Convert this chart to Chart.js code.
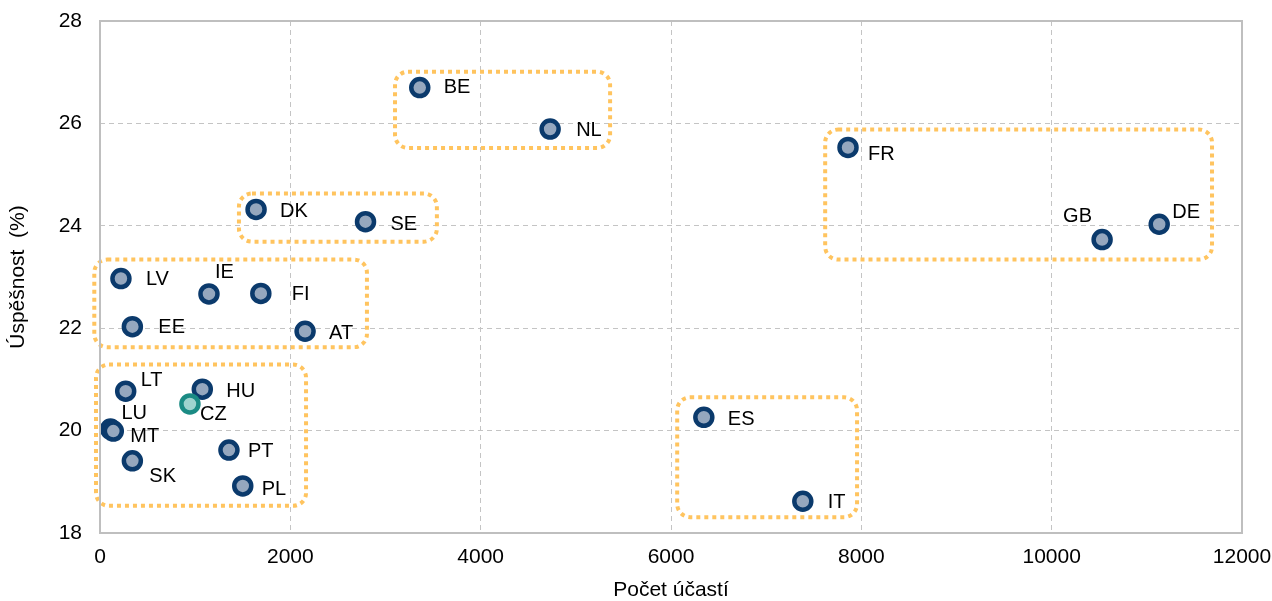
<!DOCTYPE html>
<html>
<head>
<meta charset="utf-8">
<script src="https://cdn.jsdelivr.net/npm/chart.js@4.4.1/dist/chart.umd.min.js"></script>
<style>
  html, body { margin: 0; padding: 0; background: #fff; }
  #wrap { width: 1272px; height: 601px; position: relative; }
</style>
</head>
<body>
<div id="wrap"><canvas id="graf"></canvas></div>
<script>
// zeme, pocet ucasti (x) a uspesnost v % (y)
const zeme = ["BE", "NL", "FR", "DK", "SE", "GB", "DE", "LV", "IE", "FI", "EE", "AT",
              "LT", "HU", "LU", "MT", "PT", "SK", "PL", "ES", "IT", "CZ"];
const ucasti = [3360, 4730, 7860, 1640, 2790, 10530, 11130, 220, 1145, 1690, 340, 2155,
                270, 1075, 110, 140, 1355, 340, 1500, 6345, 7385, 945];
const uspesnost = [26.70, 25.89, 25.53, 24.32, 24.08, 23.73, 24.03, 22.97, 22.67, 22.68, 22.03, 21.94,
                   20.77, 20.81, 20.03, 19.99, 19.62, 19.41, 18.92, 20.26, 18.62, 20.52];

// skupiny zemi (teckovane ramecky): [xmin, xmax, ymin, ymax]
const skupiny = [
  [3100, 5360, 25.52, 27.01],
  [1460, 3540, 23.69, 24.63],
  [-60, 2805, 21.63, 23.34],
  [-42, 2165, 18.53, 21.29],
  [7620, 11685, 23.34, 25.88],
  [6065, 7955, 18.31, 20.65]
];

const xTicks = [0, 2000, 4000, 6000, 8000, 10000, 12000];
const yTicks = [18, 20, 22, 24, 26, 28];

// posun popisku vuci bodu (px)
const posunPopisku = {
  BE: [24, 0], NL: [26, 1], FR: [20, 7], DK: [24, 2], SE: [25, 3], GB: [-39, -23],
  DE: [13, -12], LV: [25, 1], IE: [6, -21], FI: [31, 1], EE: [26, 1], AT: [24, 2],
  LT: [15, -11], HU: [24, 2], CZ: [10, 11], LU: [11, -16], MT: [17, 5], PT: [19, 1],
  SK: [17, 16], PL: [19, 4], ES: [24, 2], IT: [25, 1]
};

const body = zeme.map((z, i) => ({ x: ucasti[i], y: uspesnost[i] }));
const FONT = "'Liberation Sans', Arial, sans-serif";

const ramecky = {
  id: 'ramecky',
  beforeDatasetsDraw(chart) {
    const { ctx, scales: { x, y } } = chart;
    ctx.save();
    ctx.strokeStyle = '#FFC45F';
    ctx.lineWidth = 4;
    ctx.setLineDash([4, 4]);
    skupiny.forEach(s => {
      const x0 = x.getPixelForValue(s[0]);
      const x1 = x.getPixelForValue(s[1]);
      const y0 = y.getPixelForValue(s[3]);
      const y1 = y.getPixelForValue(s[2]);
      ctx.beginPath();
      ctx.roundRect(x0, y0, x1 - x0, y1 - y0, 13);
      ctx.stroke();
    });
    ctx.restore();
  }
};

const okraj = {
  id: 'okraj',
  afterDraw(chart) {
    const { ctx, chartArea: a } = chart;
    ctx.save();
    ctx.strokeStyle = '#BFBFBF';
    ctx.lineWidth = 2;
    ctx.setLineDash([]);
    ctx.strokeRect(a.left, a.top, a.right - a.left, a.bottom - a.top);
    ctx.restore();
  }
};

const popisky = {
  id: 'popisky',
  afterDatasetsDraw(chart) {
    const { ctx } = chart;
    const meta = chart.getDatasetMeta(0);
    ctx.save();
    ctx.font = '20px ' + FONT;
    ctx.fillStyle = '#000';
    ctx.textAlign = 'left';
    ctx.textBaseline = 'middle';
    meta.data.forEach((pt, i) => {
      const p = posunPopisku[zeme[i]] || [20, 0];
      ctx.fillText(zeme[i], pt.x + p[0], pt.y + p[1]);
    });
    ctx.restore();
  }
};

new Chart(document.getElementById('graf'), {
  type: 'scatter',
  data: {
    datasets: [{
      label: 'Úspěšnost',
      data: body,
      pointRadius: 8.5,
      pointHoverRadius: 8.5,
      borderWidth: 4.5,
      pointBorderColor: zeme.map(z => z === 'CZ' ? '#1B8B84' : '#0B3A6C'),
      pointBackgroundColor: zeme.map(z => z === 'CZ' ? '#9ED3CE' : '#95A7BE')
    }]
  },
  options: {
    responsive: true,
    maintainAspectRatio: false,
    animation: false,
    layout: { padding: { top: 21, right: 30, left: 0, bottom: 0 } },
    plugins: {
      legend: { display: false },
      tooltip: { enabled: false }
    },
    scales: {
      x: {
        type: 'linear',
        min: 0,
        max: 12000,
        afterFit: s => { s.height = 68; s.paddingLeft = 0; s.paddingRight = 0; },
        afterBuildTicks: s => { s.ticks = xTicks.map(v => ({ value: v })); },
        grid: { color: '#C4C4C4', lineWidth: 1, drawTicks: false },
        border: { display: false, dash: [5, 4] },
        ticks: { color: '#000', font: { family: FONT, size: 21 }, padding: 12, callback: v => String(v) },
        title: {
          display: true, text: 'Počet účastí', color: '#000',
          font: { family: FONT, size: 21, lineHeight: 1 }, padding: { top: 0, bottom: 0 }
        }
      },
      y: {
        type: 'linear',
        min: 18,
        max: 28,
        afterFit: s => { s.width = 100; s.paddingTop = 0; s.paddingBottom = 0; },
        afterBuildTicks: s => { s.ticks = yTicks.map(v => ({ value: v })); },
        grid: { color: '#C4C4C4', lineWidth: 1, drawTicks: false },
        border: { display: false, dash: [5, 4] },
        ticks: { color: '#000', font: { family: FONT, size: 21 }, padding: 18, callback: v => String(v) },
        title: {
          display: true, text: 'Úspěšnost  (%)', color: '#000',
          font: { family: FONT, size: 21, lineHeight: 1 }, padding: { top: 8, bottom: 0 }
        }
      }
    }
  },
  plugins: [ramecky, popisky, okraj]
});
</script>
</body>
</html>
